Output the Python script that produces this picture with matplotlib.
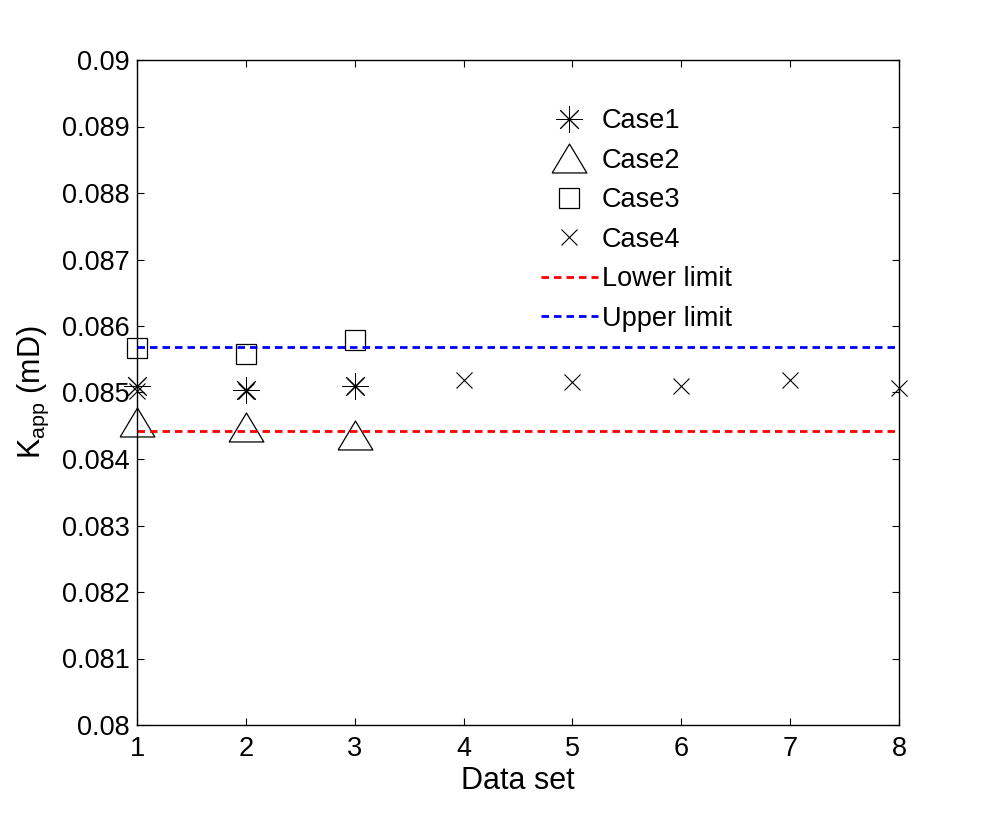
import numpy as np
import matplotlib
matplotlib.use('Agg')
from matplotlib import pyplot as plt

# Values
case1X = [1, 2, 3]
case1K = [0.085098, 0.085038, 0.085102]
case2X = [1, 2, 3]
case2K = [0.084556, 0.084481, 0.084365]
case3X = [1, 2, 3]
case3K = [0.085665, 0.085574, 0.085785]
case4X = [1, 2, 3, 4, 5, 6, 7, 8]
case4K = [0.085025, 0.085030, 0.085100, 0.085188, 0.085153, 0.085102, 0.085188, 0.085063]
limitX = [1, 8]
lowerLimit = 0.084415
upperLimit = 0.085680

xTicks = [1, 2, 3, 4, 5, 6, 7, 8]
yTicks = [0.08, 0.081, 0.082, 0.083, 0.084, 0.085, 0.086, 0.087, 0.088, 0.089, 0.09]
yTickLabels = ['0.08', '0.081', '0.082', '0.083', '0.084', '0.085', '0.086',
               '0.087', '0.088', '0.089', '0.09']

plt.rcParams['font.family'] = ['Liberation Sans', 'DejaVu Sans']
plt.rcParams['mathtext.fontset'] = 'custom'
plt.rcParams['mathtext.rm'] = 'Liberation Sans'
plt.rcParams['mathtext.it'] = 'Liberation Sans'

fig = plt.figure(figsize=(9.93, 8.16), dpi=100)
ax = fig.add_axes([137/993., 1 - 725/816., (899-137)/993., (725-60)/816.])

# wide MATLAB-like triangle, closed path
triVerts = [(-1.2, -1.0), (1.2, -1.0), (0.0, 1.0), (-1.2, -1.0)]
ax.plot(case1X, case1K, linestyle='none', marker=(8, 2, 0), markersize=19,
        markeredgewidth=0.7, color='k', label='Case1', clip_on=False)
ax.plot(case2X, case2K, linestyle='none', marker=triVerts, markersize=25,
        markeredgewidth=0.9, markerfacecolor='none', markeredgecolor='k',
        label='Case2', clip_on=False)
ax.plot(case3X, case3K, linestyle='none', marker='s', markersize=14.5,
        markeredgewidth=0.9, markerfacecolor='none', markeredgecolor='k',
        label='Case3', clip_on=False)
ax.plot(case4X, case4K, linestyle='none', marker='x', markersize=12,
        markeredgewidth=0.8, color='k', label='Case4', clip_on=False)
ax.plot(limitX, [lowerLimit, lowerLimit], color='#ff0000', linewidth=2,
        linestyle=(0, (2.7, 1.8)), label='Lower limit')
ax.plot(limitX, [upperLimit, upperLimit], color='#0000ff', linewidth=2,
        linestyle=(0, (2.7, 1.8)), label='Upper limit')

ax.set_xlim(1, 8)
ax.set_ylim(0.08, 0.09)
ax.set_xticks(xTicks)
ax.set_xticklabels([str(t) for t in xTicks])
ax.set_yticks(yTicks)
ax.set_yticklabels(yTickLabels)
ax.tick_params(direction='in', length=5, width=0.8, labelsize=19.5,
               top=True, right=True)
ax.tick_params(axis='y', pad=5)
ax.tick_params(axis='x', pad=8)
for sp in ax.spines.values():
    sp.set_linewidth(1.0)

ax.set_xlabel('Data set', fontsize=22, labelpad=3)
ax.set_ylabel(r'K$_{\mathrm{app}}$ (mD)', fontsize=22, labelpad=8)

leg = ax.legend(loc='upper left', bbox_to_anchor=((541-137)/762., (725-108)/665.),
                frameon=False, fontsize=19.5, borderpad=0, borderaxespad=0,
                handlelength=2.1, handletextpad=0.15, labelspacing=0.5,
                numpoints=1)

fig.savefig('out.png', dpi=100, facecolor='w')
